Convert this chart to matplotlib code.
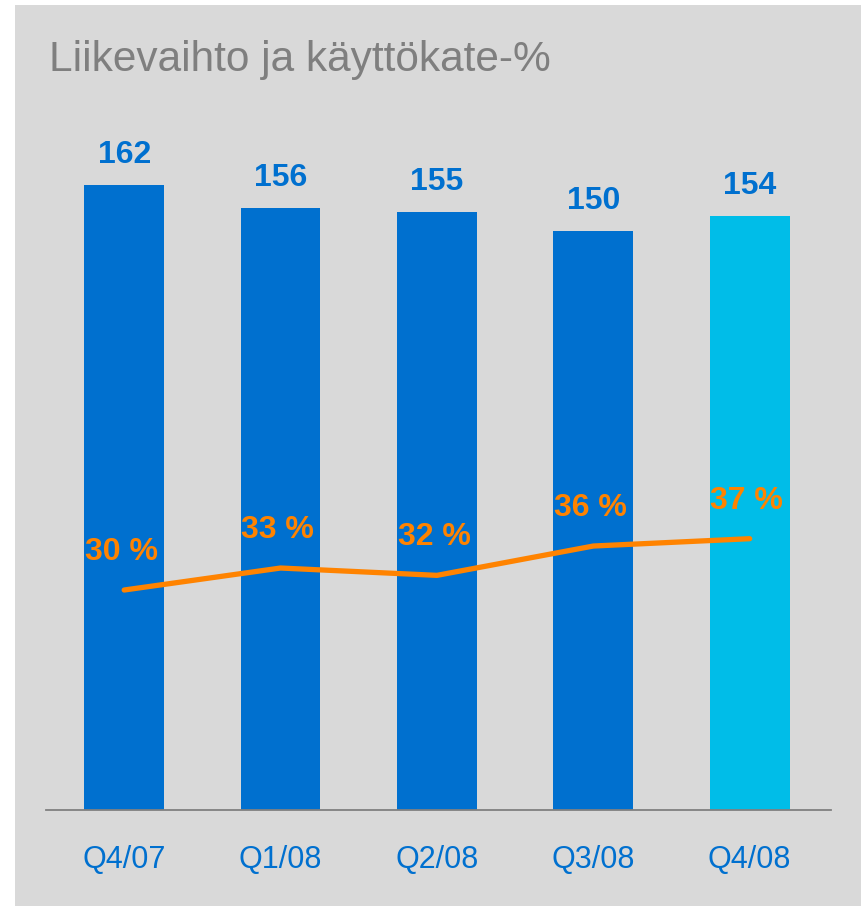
import matplotlib
matplotlib.use("Agg")
import matplotlib.pyplot as plt
from matplotlib.patches import Rectangle

categories = ["Q4/07", "Q1/08", "Q2/08", "Q3/08", "Q4/08"]
revenue = [162, 156, 155, 150, 154]
ebitda_pct = [30, 33, 32, 36, 37]
title = "Liikevaihto ja käyttökate-%"

BLUE = "#0070cf"
CYAN = "#00bde8"
ORANGE = "#ff8300"
BG = "#d9d9d9"

plt.rcParams['font.family'] = ['Liberation Sans', 'DejaVu Sans']

W, H = 861, 906
fig = plt.figure(figsize=(W / 100, H / 100), dpi=100)
fig.patch.set_facecolor("white")
fig.patches.append(Rectangle((15 / W, 0), 1 - 15 / W, 1 - 5 / H,
                             transform=fig.transFigure, facecolor=BG,
                             edgecolor="none", zorder=-10))

left, right, bottom, top = 46, 831, 810, 120
ax = fig.add_axes([left / W, (H - bottom) / H, (right - left) / W, (bottom - top) / H])
ax.set_facecolor("none")
x = list(range(len(categories)))
colors = [BLUE] * (len(categories) - 1) + [CYAN]
ax.bar(x, revenue, width=0.51, color=colors, zorder=2)
ax.set_xlim(-0.5, 4.52)
ax.set_ylim(0, 178.85)
for xi, v in zip(x, revenue):
    ax.annotate(str(v), (xi, v), xytext=(0, 15.8), textcoords="offset points",
                ha="center", va="baseline", fontsize=23, fontweight="bold", color=BLUE)

for s in ["top", "right", "left"]:
    ax.spines[s].set_visible(False)
ax.spines["bottom"].set_color("#808080")
ax.spines["bottom"].set_linewidth(1.3)
ax.set_yticks([])
ax.set_xticks(x)
ax.set_xticklabels(categories, fontsize=22, color=BLUE)
ax.tick_params(axis="x", length=0, pad=25)

ax2 = ax.twinx()
ax2.set_ylim(0, 94.1)
ax2.plot(x, ebitda_pct, color=ORANGE, lw=3.8, solid_capstyle="round",
         solid_joinstyle="round", zorder=3)
for xi, v in zip(x, ebitda_pct):
    ax2.annotate(f"{v} %", (xi, v), xytext=(-2, 21.6), textcoords="offset points",
                 ha="center", va="baseline", fontsize=23, fontweight="bold", color=ORANGE)
ax2.set_yticks([])
for s in ax2.spines.values():
    s.set_visible(False)

fig.text(49 / W, 1 - 60 / H, title, fontsize=30.5, color="#7f7f7f",
         ha="left", va="center")

fig.savefig("out.png", dpi=100)
